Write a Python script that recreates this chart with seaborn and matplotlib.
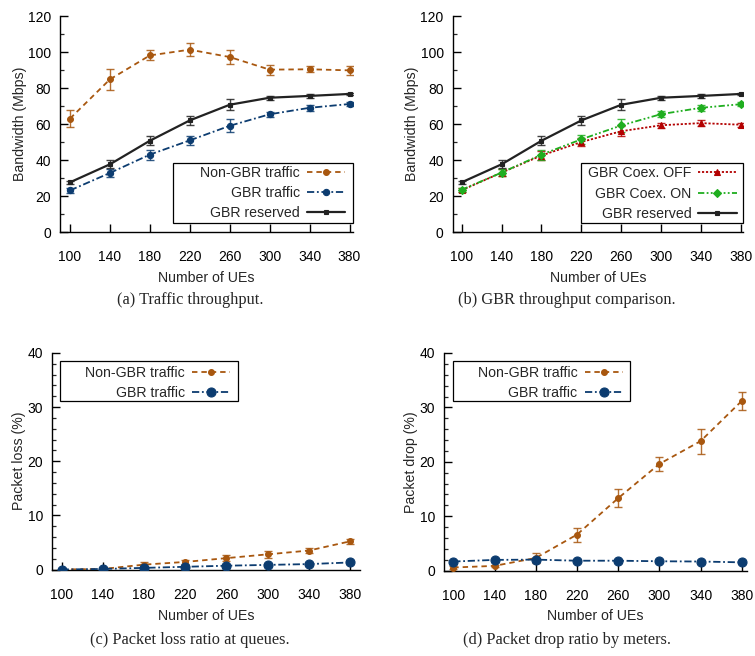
import matplotlib
matplotlib.use("Agg")
import matplotlib.pyplot as plt
from matplotlib.ticker import MultipleLocator
from matplotlib.patches import Rectangle
import seaborn as sns
import pandas as pd

# ---------------- data ----------------
ues = [100, 140, 180, 220, 260, 300, 340, 380]

nongbr_bw = [63.0, 84.8, 98.1, 101.3, 97.2, 90.2, 90.4, 89.8]
nongbr_bw_err = [4.8, 5.8, 2.8, 3.7, 4.1, 2.7, 1.6, 2.7]
gbr_bw = [23.1, 32.8, 43.0, 50.9, 59.0, 65.4, 69.0, 71.1]
gbr_bw_err = [1.2, 2.3, 2.8, 2.5, 3.7, 1.5, 1.5, 1.0]
reserved_bw = [27.6, 37.6, 50.7, 62.0, 70.7, 74.6, 75.6, 76.7]
reserved_bw_err = [1.0, 2.3, 2.5, 2.6, 3.0, 1.0, 1.0, 0.7]

coex_off = [23.2, 33.0, 42.5, 50.0, 56.0, 59.3, 60.5, 59.6]
coex_off_err = [1.0, 2.0, 2.5, 2.2, 2.8, 1.5, 1.5, 1.0]
coex_on = [23.5, 33.0, 43.0, 51.5, 59.2, 65.5, 69.0, 71.0]
coex_on_err = [1.0, 2.0, 2.8, 2.5, 3.5, 1.5, 1.5, 1.2]

nongbr_loss = [0.0, 0.1, 0.9, 1.4, 2.1, 2.8, 3.5, 5.2]
nongbr_loss_err = [0.1, 0.1, 0.4, 0.4, 0.5, 0.6, 0.5, 0.5]
gbr_loss = [0.0, 0.1, 0.3, 0.5, 0.7, 0.85, 1.0, 1.3]
gbr_loss_err = [0.1, 0.1, 0.2, 0.2, 0.2, 0.2, 0.2, 0.3]

nongbr_drop = [0.55, 0.85, 2.3, 6.6, 13.3, 19.6, 23.8, 31.2]
nongbr_drop_err = [0.2, 0.2, 1.0, 1.3, 1.6, 1.3, 2.3, 1.7]
gbr_drop = [1.65, 1.95, 2.0, 1.8, 1.8, 1.7, 1.65, 1.5]
gbr_drop_err = [0.1, 0.1, 0.1, 0.1, 0.1, 0.1, 0.1, 0.1]

captions = ["(a) Traffic throughput.", "(b) GBR throughput comparison.",
            "(c) Packet loss ratio at queues.", "(d) Packet drop ratio by meters."]

# ---------------- style ----------------
sns.set_style("white")
plt.rcParams["font.family"] = ["Liberation Sans", "DejaVu Sans"]

ORANGE = "#a8570f"
BLUE = "#0c3c70"
BLACK = "#222222"
RED = "#b30000"
GREEN = "#1fae1f"

DASHED = (0, (3.0, 2.2))
DASHDOT = (0, (4.0, 1.5, 1.0, 1.5))
DOTTED = (0, (1.2, 1.0))
DASHDOTDOT = (0, (3.5, 1.3, 1.0, 1.3, 1.0, 1.3))

fig = plt.figure(figsize=(7.55, 6.56), dpi=100)
W, H = 755.0, 656.0


def add_axes(left, right, top, bottom):
    return fig.add_axes([left / W, 1 - bottom / H, (right - left) / W, (bottom - top) / H])


ax_a = add_axes(60, 353, 16, 232)
ax_b = add_axes(452.7, 743, 16, 232)
ax_c = add_axes(52, 360, 353, 569.5)
ax_d = add_axes(444, 747, 353, 570.5)


def series(ax, y, err, label, color, ls, marker, ms, lw=1.3):
    df = pd.DataFrame({"x": ues, "y": y})
    ax.errorbar(ues, y, yerr=err, fmt="none", ecolor=color, elinewidth=1.0,
                capsize=2.6, capthick=1.0, alpha=0.85, zorder=2)
    sns.lineplot(data=df, x="x", y="y", ax=ax, color=color, linestyle=ls,
                 linewidth=lw, marker=marker, markersize=ms,
                 markeredgecolor=color, markeredgewidth=0.8,
                 label=label, errorbar=None, zorder=3)


def style_axis(ax, xlim, ylim, ymajor, yminor, ylabel):
    ax.set_xlim(*xlim)
    ax.set_ylim(*ylim)
    ax.set_xticks(ues)
    ax.set_xticklabels([str(v) for v in ues])
    ax.yaxis.set_major_locator(MultipleLocator(ymajor))
    ax.yaxis.set_minor_locator(MultipleLocator(yminor))
    for s in ["top", "right"]:
        ax.spines[s].set_visible(False)
    for s in ["left", "bottom"]:
        ax.spines[s].set_color("black")
        ax.spines[s].set_linewidth(1.0)
    ax.tick_params(axis="y", which="major", direction="in", length=6, width=1.0,
                   labelsize=10, pad=6.5, left=True, colors="black")
    ax.tick_params(axis="y", which="minor", direction="in", length=3, width=0.9, left=True)
    ax.tick_params(axis="x", which="major", direction="in", length=6, width=1.0,
                   labelsize=10, pad=13, bottom=True, colors="black")
    ax.set_xlabel("Number of UEs", fontsize=10.2, labelpad=5)
    ax.set_ylabel(ylabel, fontsize=10.2, labelpad=0.8)
    ax.grid(False)


def legend(ax, rect, anchor):
    # rect = (x0, y0, x1, y1) in axes coords; anchor = (right of handle, center y)
    x0, y0, x1, y1 = rect
    ax.add_patch(Rectangle((x0, y0), x1 - x0, y1 - y0, transform=ax.transAxes,
                           facecolor="white", edgecolor="black", linewidth=0.9,
                           zorder=5, clip_on=False))
    leg = ax.legend(loc="center right", bbox_to_anchor=anchor, markerfirst=False,
                    frameon=False, fontsize=10.2, handlelength=2.7,
                    handletextpad=0.5, labelspacing=0.44, borderpad=0,
                    borderaxespad=0, numpoints=1)
    leg.set_zorder(6)


# (a)
series(ax_a, nongbr_bw, nongbr_bw_err, "Non-GBR traffic", ORANGE, DASHED, "o", 4.2)
series(ax_a, gbr_bw, gbr_bw_err, "GBR traffic", BLUE, DASHDOT, "o", 4.5)
series(ax_a, reserved_bw, reserved_bw_err, "GBR reserved", BLACK, "-", "s", 3.5, lw=1.6)
style_axis(ax_a, (90, 383.5), (0, 120), 20, 10, "Bandwidth (Mbps)")
legend(ax_a, (0.386, 0.042, 1.0, 0.319), (0.973, 0.18))

# (b)
series(ax_b, coex_off, coex_off_err, "GBR Coex. OFF", RED, DOTTED, "^", 4.5)
series(ax_b, coex_on, coex_on_err, "GBR Coex. ON", GREEN, DASHDOTDOT, "D", 4.0)
series(ax_b, reserved_bw, reserved_bw_err, "GBR reserved", BLACK, "-", "s", 3.5, lw=1.6)
style_axis(ax_b, (91, 382), (0, 120), 20, 10, "Bandwidth (Mbps)")
legend(ax_b, (0.442, 0.042, 1.0, 0.319), (0.978, 0.178))

# (c)
series(ax_c, nongbr_loss, nongbr_loss_err, "Non-GBR traffic", ORANGE, DASHED, "o", 4.2)
series(ax_c, gbr_loss, gbr_loss_err, "GBR traffic", BLUE, DASHDOT, "o", 6.5)
style_axis(ax_c, (90.6, 389.7), (0, 40), 10, 2, "Packet loss (%)")
legend(ax_c, (0.026, 0.778, 0.604, 0.963), (0.578, 0.861))

# (d)
series(ax_d, nongbr_drop, nongbr_drop_err, "Non-GBR traffic", ORANGE, DASHED, "o", 4.2)
series(ax_d, gbr_drop, gbr_drop_err, "GBR traffic", BLUE, DASHDOT, "o", 6.5)
style_axis(ax_d, (91, 385), (0, 40), 10, 2, "Packet drop (%)")
legend(ax_d, (0.0287, 0.778, 0.614, 0.963), (0.59, 0.861))

# captions
cap_pos = [(190, 300), (567, 300), (190, 640), (567, 640)]
for (cx, cy), txt in zip(cap_pos, captions):
    fig.text(cx / W, 1 - cy / H, txt, ha="center", va="center", fontsize=11.8,
             family=["Liberation Serif", "DejaVu Serif"])

fig.savefig("out.png", dpi=100)
